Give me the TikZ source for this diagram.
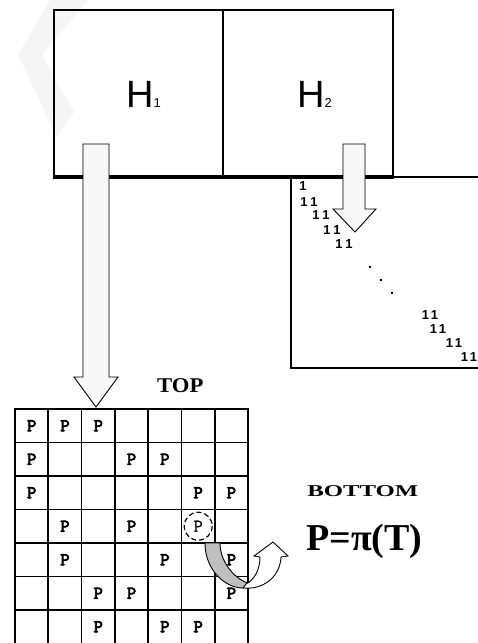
\documentclass[tikz,border=0pt]{standalone}
\usepackage{fontspec}
\setmainfont{Liberation Serif}
\newfontfamily\arialf{Liberation Sans}
\newfontfamily\courf[FakeBold=4]{Latin Modern Mono}
\newfontfamily\courthin[FakeBold=1]{Latin Modern Mono}
\begin{document}
\begin{tikzpicture}[x=1pt,y=-1pt,
  thickline/.style={line width=2.6pt},
  bigarrow/.style={draw=black,line width=0.9pt,fill=black!3},
  gridline/.style={line width=1.7pt},
  onestxt/.style={font=\arialf\bfseries\fontsize{13}{13}\selectfont,inner sep=0pt},
  ptxt/.style={font=\courf\fontsize{18}{18}\selectfont,inner sep=0pt},
  htxt/.style={anchor=base west,inner sep=0pt}]
\useasboundingbox (0,0) rectangle (478,643);
% watermark
\fill[black!4] (50,0) -- (88,0) -- (42,55) -- (74,112) -- (57,137) -- (18,55) -- cycle;
% H boxes
\draw[thickline] (54,177) -- (54,10) -- (393,10) -- (393,177);
\draw[thickline] (223,10) -- (223,177);
\draw[line width=3.2pt] (53,177) -- (394,177);
\draw[line width=1.3pt] (393,177) -- (478,177);
\node[htxt] (h1) at (126,107) {\arialf\fontsize{38}{38}\selectfont H\fontsize{13}{13}\selectfont 1};
\node[htxt] (h2) at (297,107) {\arialf\fontsize{38}{38}\selectfont H\fontsize{13}{13}\selectfont 2};
% matrix box
\draw[line width=1.8pt] (291,177) -- (291,368) -- (478,368);
\node[onestxt] (o0) at (303,186) {1};
\node[onestxt] (o1) at (309,202) {1\hspace{3pt}1};
\node[onestxt] (o2) at (321,215) {1\hspace{3pt}1};
\node[onestxt] (o3) at (332,230) {1\hspace{3pt}1};
\node[onestxt] (o4) at (344,244) {1\hspace{3pt}1};
\fill (369,266) rectangle +(2,2);
\fill (380,279) rectangle +(2,2);
\fill (391,292) rectangle +(2,2);
\node[onestxt] (o5) at (430,315) {1\hspace{2pt}1};
\node[onestxt] (o6) at (438,329) {1\hspace{2pt}1};
\node[onestxt] (o7) at (454,343) {1\hspace{2pt}1};
\node[onestxt] (o8) at (469,357) {1\hspace{2pt}1};
% arrows
\draw[bigarrow] (83,144) -- (109,144) -- (109,377) -- (118,377) -- (96,407) -- (74,377) -- (83,377) -- cycle;
\draw[bigarrow] (343,144) -- (365,144) -- (365,209) -- (376,209) -- (355,232) -- (333,209) -- (343,209) -- cycle;
% grid
\foreach \i in {0,...,7} {
  \draw[gridline] ({15+33.3*\i},408) -- ({15+33.3*\i},646);
}
\foreach \j in {0,...,6} {
  \draw[gridline] (14,{409+33.5*\j}) -- (249,{409+33.5*\j});
}
\foreach \r/\c in {0/0,0/1,0/2,1/0,1/3,1/4,2/0,2/5,2/6,3/1,3/3,4/1,4/4,4/6,5/2,5/3,5/6,6/2,6/4,6/5} {
  \node[ptxt] at ({15+33.3*(\c+0.5)},{409+33.5*(\r+0.5)}) {P};
}
\node[font=\courthin\fontsize{18}{18}\selectfont,inner sep=0pt] (pc) at (198.2,526.2) {P};
\draw[dashed,dash pattern=on 5pt off 3pt,line width=1.2pt] (pc) circle (14);
% curved arrows
\draw[line width=0.9pt,fill=black!25] (205,543) .. controls (205,570) and (225,588) .. (243,588)
  -- (250,584) .. controls (232,578) and (220,560) .. (220,543) -- cycle;
\draw[line width=0.9pt,fill=white] (243,588) .. controls (262,590) and (280,578) .. (281,557)
  -- (288,556) -- (273,542) -- (254,556) -- (260,557) .. controls (260,570) and (254,580) .. (246,584) -- cycle;
% labels
\node[htxt,font=\bfseries\fontsize{21}{21}\selectfont,xscale=1.08] (top) at (157,392) {TOP};
\node[htxt,font=\bfseries\fontsize{16.5}{16.5}\selectfont,xscale=1.5] (bot) at (307,496) {BOTTOM};
\node[htxt,font=\bfseries\fontsize{38}{38}\selectfont] (eq) at (306,550) {P=π(T)};
\end{tikzpicture}
\end{document}
